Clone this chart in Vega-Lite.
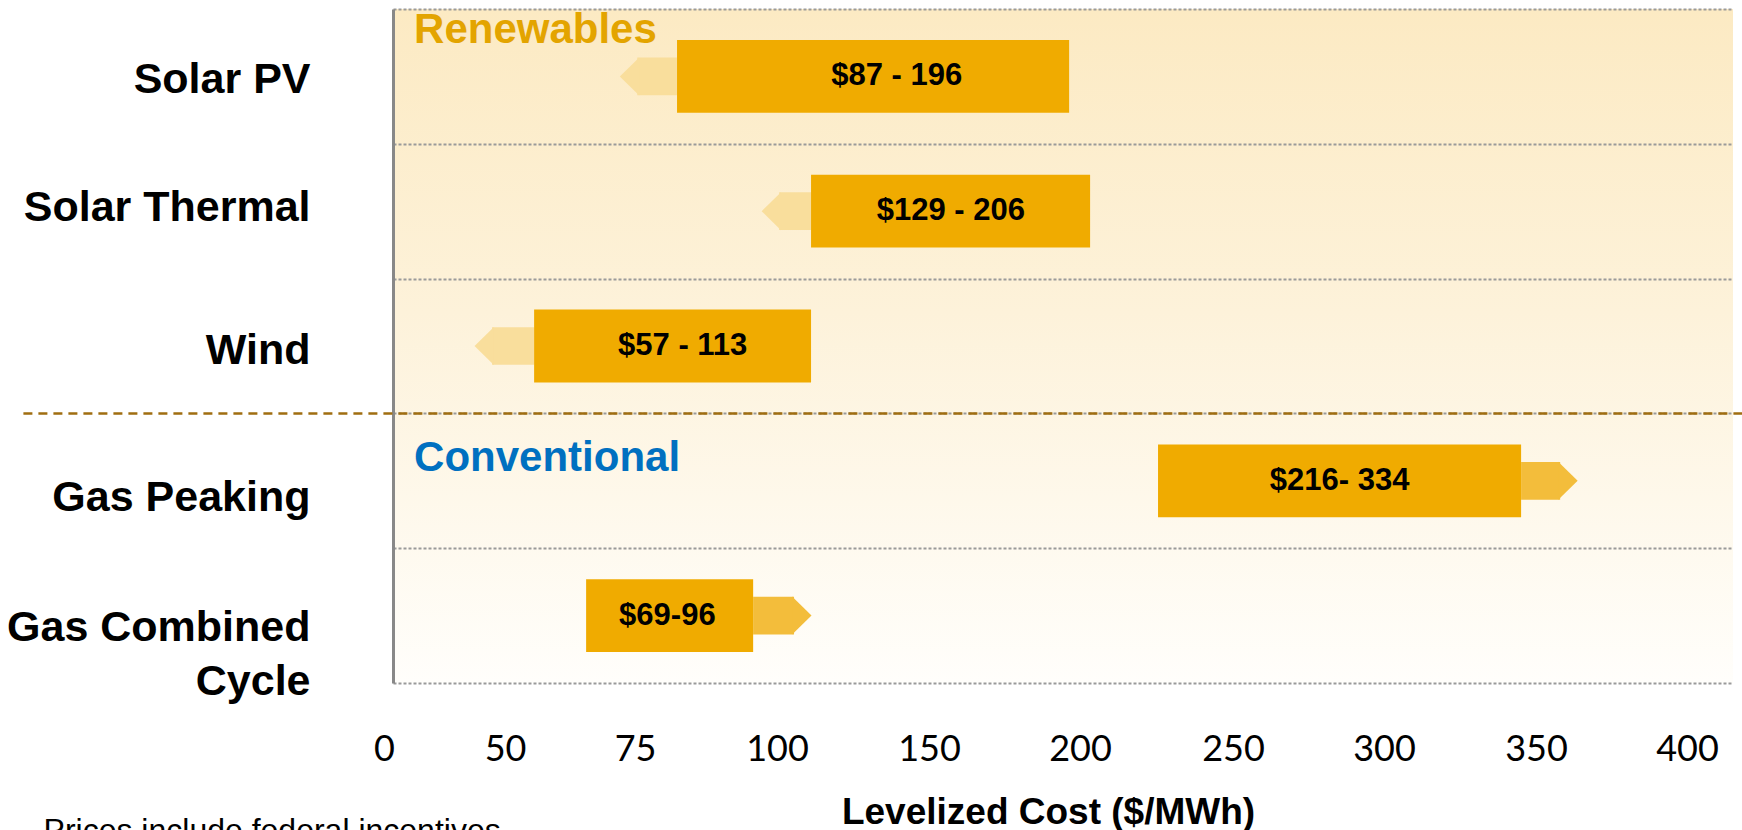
{
  "$schema": "https://vega.github.io/schema/vega-lite/v6.json",
  "width": 1340,
  "height": 674,
  "autosize": {"type": "none"},
  "padding": {"left": 393, "top": 9, "right": 9, "bottom": 147},
  "background": "white",
  "config": {
    "font": "Liberation Sans",
    "view": {
      "stroke": null,
      "fill": {
        "gradient": "linear", "x1": 0, "y1": 0, "x2": 0, "y2": 1,
        "stops": [
          {"offset": 0, "color": "#FCEAC3"},
          {"offset": 0.45, "color": "#FDF2DA"},
          {"offset": 1, "color": "#FFFEFB"}
        ]
      }
    }
  },
  "title": {
    "text": "Prices include federal incentives",
    "orient": "bottom", "anchor": "start", "frame": "bounds",
    "dx": 37, "offset": -14, "baseline": "top",
    "font": "Liberation Sans", "fontSize": 32, "fontWeight": "normal", "color": "black"
  },
  "data": {
    "values": [
      {"tech": "Solar PV", "group": "Renewables", "low": 82.4, "high": 196.4, "arrow": 75.4, "label": "$87 - 196"},
      {"tech": "Solar Thermal", "group": "Renewables", "low": 111.2, "high": 203.3, "arrow": 100.7, "label": "$129 - 206"},
      {"tech": "Wind", "group": "Renewables", "low": 55.6, "high": 111.2, "arrow": 44.2, "label": "$57 - 113"},
      {"tech": "Gas Peaking", "group": "Conventional", "low": 225.5, "high": 345.1, "arrow": 358, "label": "$216- 334"},
      {"tech": "Gas Combined Cycle", "group": "Conventional", "low": 65.6, "high": 95.8, "arrow": 105.6, "label": "$69-96"}
    ]
  },
  "encoding": {
    "y": {
      "field": "tech", "type": "nominal", "title": null,
      "scale": {"domain": ["Solar PV", "Solar Thermal", "Wind", "Gas Peaking", "Gas Combined Cycle"], "paddingInner": 0, "paddingOuter": 0},
      "axis": {
        "domain": true, "domainColor": "#888888", "domainWidth": 3,
        "ticks": false, "tickSize": 0,
        "grid": true, "tickBand": "extent", "gridColor": "#9a9a9a", "gridDash": [3, 2], "gridWidth": 2,
        "labelFont": "Liberation Sans", "labelFontWeight": "bold", "labelFontSize": 43, "labelColor": "black",
        "labelPadding": 83, "labelLimit": 500, "labelLineHeight": 54,
        "labelOffset": {"condition": [
          {"test": "datum.value == 'Solar PV'", "value": 3},
          {"test": "datum.value == 'Solar Thermal'", "value": -4},
          {"test": "datum.value == 'Wind'", "value": 4},
          {"test": "datum.value == 'Gas Peaking'", "value": 17},
          {"test": "datum.value == 'Gas Combined Cycle'", "value": 12}], "value": 0},
        "labelExpr": "datum.value == 'Gas Combined Cycle' ? ['Gas Combined', 'Cycle'] : datum.value"
      }
    }
  },
  "layer": [
    {
      "transform": [{"filter": "datum.group == 'Renewables'"}],
      "mark": {"type": "bar", "height": {"band": 0.28}},
      "encoding": {
        "x": {"field": "arrow", "type": "quantitative", "title": "Levelized Cost ($/MWh)",
              "scale": {"type": "linear", "domain": [0, 50, 75, 100, 150, 200, 250, 300, 350, 400, 415], "range": [0, 112, 242, 384, 536, 687, 840, 991, 1143, 1294, 1340], "nice": false, "zero": false},
              "axis": {
                "values": [0, 50, 75, 100, 150, 200, 250, 300, 350, 400],
                "domain": false, "ticks": false, "tickSize": 0, "grid": false,
                "labelFont": "Lato", "labelFontSize": 36, "labelColor": "black",
                "labelOffset": {"condition": {"test": "datum.value == 0", "value": -9}, "value": 0},
                "labelPadding": 66, "labelBaseline": "middle", "labelFlush": false, "labelOverlap": false,
                "titleFont": "Liberation Sans", "titleFontWeight": "bold", "titleFontSize": 37, "titleColor": "black",
                "titlePadding": 27, "titleX": 655
              }},
        "x2": {"field": "low"},
        "color": {"field": "group", "type": "nominal", "legend": null, "scale": {"domain": ["Renewables", "Conventional"], "range": ["#F9DE9C", "#F3BD3B"]}}
      }
    },
    {
      "transform": [{"filter": "datum.group == 'Conventional'"}],
      "mark": {"type": "bar", "height": {"band": 0.28}},
      "encoding": {
        "x": {"field": "high", "type": "quantitative", "title": "Levelized Cost ($/MWh)",
              "scale": {"type": "linear", "domain": [0, 50, 75, 100, 150, 200, 250, 300, 350, 400, 415], "range": [0, 112, 242, 384, 536, 687, 840, 991, 1143, 1294, 1340], "nice": false, "zero": false},
              "axis": {
                "values": [0, 50, 75, 100, 150, 200, 250, 300, 350, 400],
                "domain": false, "ticks": false, "tickSize": 0, "grid": false,
                "labelFont": "Lato", "labelFontSize": 36, "labelColor": "black",
                "labelOffset": {"condition": {"test": "datum.value == 0", "value": -9}, "value": 0},
                "labelPadding": 66, "labelBaseline": "middle", "labelFlush": false, "labelOverlap": false,
                "titleFont": "Liberation Sans", "titleFontWeight": "bold", "titleFontSize": 37, "titleColor": "black",
                "titlePadding": 27, "titleX": 655
              }},
        "x2": {"field": "arrow"},
        "color": {"field": "group", "type": "nominal", "legend": null, "scale": {"domain": ["Renewables", "Conventional"], "range": ["#F9DE9C", "#F3BD3B"]}}
      }
    },
    {
      "mark": {"type": "point", "filled": true, "opacity": 1, "size": 1444, "strokeWidth": 0},
      "encoding": {
        "x": {"field": "arrow", "type": "quantitative", "title": "Levelized Cost ($/MWh)",
              "scale": {"type": "linear", "domain": [0, 50, 75, 100, 150, 200, 250, 300, 350, 400, 415], "range": [0, 112, 242, 384, 536, 687, 840, 991, 1143, 1294, 1340], "nice": false, "zero": false},
              "axis": {
                "values": [0, 50, 75, 100, 150, 200, 250, 300, 350, 400],
                "domain": false, "ticks": false, "tickSize": 0, "grid": false,
                "labelFont": "Lato", "labelFontSize": 36, "labelColor": "black",
                "labelOffset": {"condition": {"test": "datum.value == 0", "value": -9}, "value": 0},
                "labelPadding": 66, "labelBaseline": "middle", "labelFlush": false, "labelOverlap": false,
                "titleFont": "Liberation Sans", "titleFontWeight": "bold", "titleFontSize": 37, "titleColor": "black",
                "titlePadding": 27, "titleX": 655
              }},
        "shape": {"field": "group", "type": "nominal", "legend": null, "scale": {"domain": ["Renewables", "Conventional"], "range": ["M0.1,-1L-0.92,0L0.1,1Z", "M-0.1,-1L0.92,0L-0.1,1Z"]}},
        "color": {"field": "group", "type": "nominal", "legend": null, "scale": {"domain": ["Renewables", "Conventional"], "range": ["#F9DE9C", "#F3BD3B"]}}
      }
    },
    {
      "mark": {"type": "bar", "height": {"band": 0.54}, "color": "#F0AB00"},
      "encoding": {
        "x": {"field": "low", "type": "quantitative", "title": "Levelized Cost ($/MWh)",
              "scale": {"type": "linear", "domain": [0, 50, 75, 100, 150, 200, 250, 300, 350, 400, 415], "range": [0, 112, 242, 384, 536, 687, 840, 991, 1143, 1294, 1340], "nice": false, "zero": false},
              "axis": {
                "values": [0, 50, 75, 100, 150, 200, 250, 300, 350, 400],
                "domain": false, "ticks": false, "tickSize": 0, "grid": false,
                "labelFont": "Lato", "labelFontSize": 36, "labelColor": "black",
                "labelOffset": {"condition": {"test": "datum.value == 0", "value": -9}, "value": 0},
                "labelPadding": 66, "labelBaseline": "middle", "labelFlush": false, "labelOverlap": false,
                "titleFont": "Liberation Sans", "titleFontWeight": "bold", "titleFontSize": 37, "titleColor": "black",
                "titlePadding": 27, "titleX": 655
              }},
        "x2": {"field": "high"}
      }
    },
    {
      "transform": [{"fold": ["low", "high"], "as": ["end", "value"]}],
      "mark": {"type": "text", "font": "Liberation Sans", "fontWeight": "bold", "fontSize": 31, "color": "black", "align": "center", "baseline": "middle"},
      "encoding": {
        "x": {"field": "value", "aggregate": "mean", "type": "quantitative", "title": "Levelized Cost ($/MWh)",
              "scale": {"type": "linear", "domain": [0, 50, 75, 100, 150, 200, 250, 300, 350, 400, 415], "range": [0, 112, 242, 384, 536, 687, 840, 991, 1143, 1294, 1340], "nice": false, "zero": false},
              "axis": {
                "values": [0, 50, 75, 100, 150, 200, 250, 300, 350, 400],
                "domain": false, "ticks": false, "tickSize": 0, "grid": false,
                "labelFont": "Lato", "labelFontSize": 36, "labelColor": "black",
                "labelOffset": {"condition": {"test": "datum.value == 0", "value": -9}, "value": 0},
                "labelPadding": 66, "labelBaseline": "middle", "labelFlush": false, "labelOverlap": false,
                "titleFont": "Liberation Sans", "titleFontWeight": "bold", "titleFontSize": 37, "titleColor": "black",
                "titlePadding": 27, "titleX": 655
              }},
        "text": {"field": "label", "type": "nominal"}
      }
    },
    {
      "transform": [{"filter": "datum.tech == 'Gas Peaking'"}],
      "mark": {"type": "rule", "color": "#A06E10", "strokeDash": [9, 6], "strokeWidth": 2.5},
      "encoding": {
        "y": {"field": "tech", "type": "nominal", "bandPosition": 0},
        "x": {"datum": -165, "type": "quantitative", "title": "Levelized Cost ($/MWh)",
              "scale": {"type": "linear", "domain": [0, 50, 75, 100, 150, 200, 250, 300, 350, 400, 415], "range": [0, 112, 242, 384, 536, 687, 840, 991, 1143, 1294, 1340], "nice": false, "zero": false},
              "axis": {
                "values": [0, 50, 75, 100, 150, 200, 250, 300, 350, 400],
                "domain": false, "ticks": false, "tickSize": 0, "grid": false,
                "labelFont": "Lato", "labelFontSize": 36, "labelColor": "black",
                "labelOffset": {"condition": {"test": "datum.value == 0", "value": -9}, "value": 0},
                "labelPadding": 66, "labelBaseline": "middle", "labelFlush": false, "labelOverlap": false,
                "titleFont": "Liberation Sans", "titleFontWeight": "bold", "titleFontSize": 37, "titleColor": "black",
                "titlePadding": 27, "titleX": 655
              }},
        "x2": {"datum": 418}
      }
    },
    {
      "transform": [{"filter": "datum.tech == 'Solar PV'"}],
      "mark": {"type": "text", "font": "Liberation Sans", "fontWeight": "bold", "fontSize": 42, "color": "#E3A400", "align": "left", "baseline": "top", "dy": 1},
      "encoding": {
        "y": {"field": "tech", "type": "nominal", "bandPosition": 0},
        "x": {"datum": 9.4, "type": "quantitative", "title": "Levelized Cost ($/MWh)",
              "scale": {"type": "linear", "domain": [0, 50, 75, 100, 150, 200, 250, 300, 350, 400, 415], "range": [0, 112, 242, 384, 536, 687, 840, 991, 1143, 1294, 1340], "nice": false, "zero": false},
              "axis": {
                "values": [0, 50, 75, 100, 150, 200, 250, 300, 350, 400],
                "domain": false, "ticks": false, "tickSize": 0, "grid": false,
                "labelFont": "Lato", "labelFontSize": 36, "labelColor": "black",
                "labelOffset": {"condition": {"test": "datum.value == 0", "value": -9}, "value": 0},
                "labelPadding": 66, "labelBaseline": "middle", "labelFlush": false, "labelOverlap": false,
                "titleFont": "Liberation Sans", "titleFontWeight": "bold", "titleFontSize": 37, "titleColor": "black",
                "titlePadding": 27, "titleX": 655
              }},
        "text": {"field": "group", "type": "nominal"}
      }
    },
    {
      "transform": [{"filter": "datum.tech == 'Gas Peaking'"}],
      "mark": {"type": "text", "font": "Liberation Sans", "fontWeight": "bold", "fontSize": 42, "color": "#0070C0", "align": "left", "baseline": "top", "dy": 25},
      "encoding": {
        "y": {"field": "tech", "type": "nominal", "bandPosition": 0},
        "x": {"datum": 9.4, "type": "quantitative", "title": "Levelized Cost ($/MWh)",
              "scale": {"type": "linear", "domain": [0, 50, 75, 100, 150, 200, 250, 300, 350, 400, 415], "range": [0, 112, 242, 384, 536, 687, 840, 991, 1143, 1294, 1340], "nice": false, "zero": false},
              "axis": {
                "values": [0, 50, 75, 100, 150, 200, 250, 300, 350, 400],
                "domain": false, "ticks": false, "tickSize": 0, "grid": false,
                "labelFont": "Lato", "labelFontSize": 36, "labelColor": "black",
                "labelOffset": {"condition": {"test": "datum.value == 0", "value": -9}, "value": 0},
                "labelPadding": 66, "labelBaseline": "middle", "labelFlush": false, "labelOverlap": false,
                "titleFont": "Liberation Sans", "titleFontWeight": "bold", "titleFontSize": 37, "titleColor": "black",
                "titlePadding": 27, "titleX": 655
              }},
        "text": {"field": "group", "type": "nominal"}
      }
    }
  ]
}
